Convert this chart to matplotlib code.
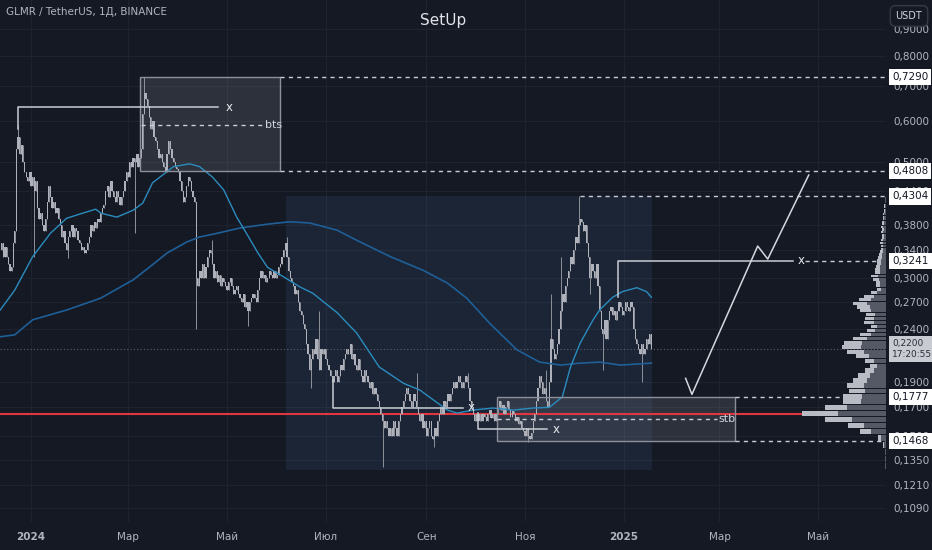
import matplotlib
matplotlib.use("Agg")
import matplotlib.pyplot as plt
from matplotlib.patches import Rectangle
from datetime import date

START = date(2023, 12, 13)   # day 0 = first daily candle

# daily closes GLMR/USDT
closes = [
    0.34, 0.35, 0.33, 0.345, 0.33, 0.32, 0.31, 0.315, 0.35, 0.37,
    0.53, 0.56, 0.52, 0.54, 0.50, 0.48, 0.47, 0.46, 0.48, 0.45,
    0.47, 0.44, 0.46, 0.41, 0.39, 0.40, 0.38, 0.37, 0.39, 0.42,
    0.45, 0.43, 0.41, 0.42, 0.40, 0.41, 0.39, 0.38, 0.36, 0.37,
    0.35, 0.34, 0.36, 0.37, 0.38, 0.36, 0.375, 0.37, 0.355, 0.35,
    0.34, 0.345, 0.335, 0.34, 0.35, 0.36, 0.38, 0.37, 0.385, 0.375,
    0.39, 0.385, 0.40, 0.41, 0.415, 0.44, 0.45, 0.43, 0.46, 0.44,
    0.43, 0.42, 0.44, 0.43, 0.415, 0.43, 0.44, 0.46, 0.48, 0.47,
    0.50, 0.49, 0.51, 0.50, 0.52, 0.49, 0.51, 0.53, 0.62, 0.68,
    0.66, 0.64, 0.61, 0.58, 0.60, 0.56, 0.55, 0.53, 0.51, 0.52,
    0.50, 0.49, 0.48, 0.52, 0.55, 0.53, 0.51, 0.50, 0.49, 0.485,
    0.48, 0.46, 0.44, 0.42, 0.43, 0.45, 0.47, 0.46, 0.44, 0.43,
    0.42, 0.30, 0.29, 0.31, 0.30, 0.32, 0.30, 0.315, 0.33, 0.34,
    0.335, 0.32, 0.30, 0.31, 0.295, 0.305, 0.29, 0.30, 0.295, 0.29,
    0.285, 0.295, 0.30, 0.29, 0.28, 0.285, 0.29, 0.28, 0.275, 0.27,
    0.28, 0.265, 0.27, 0.26, 0.27, 0.275, 0.28, 0.275, 0.27, 0.285,
    0.30, 0.31, 0.30, 0.305, 0.295, 0.30, 0.31, 0.305, 0.30, 0.31,
    0.30, 0.305, 0.315, 0.32, 0.33, 0.34, 0.35, 0.33, 0.31, 0.30,
    0.295, 0.29, 0.28, 0.285, 0.27, 0.26, 0.255, 0.245, 0.24, 0.225,
    0.215, 0.20, 0.21, 0.22, 0.215, 0.23, 0.21, 0.20, 0.22, 0.215,
    0.22, 0.21, 0.205, 0.20, 0.195, 0.19, 0.195, 0.20, 0.19, 0.195,
    0.205, 0.20, 0.21, 0.215, 0.22, 0.215, 0.225, 0.21, 0.215, 0.205,
    0.20, 0.21, 0.20, 0.195, 0.19, 0.20, 0.195, 0.19, 0.185, 0.19,
    0.18, 0.185, 0.18, 0.175, 0.17, 0.165, 0.16, 0.155, 0.16, 0.155,
    0.15, 0.155, 0.15, 0.16, 0.155, 0.15, 0.16, 0.165, 0.17, 0.175,
    0.18, 0.185, 0.18, 0.175, 0.17, 0.18, 0.175, 0.17, 0.165, 0.16,
    0.165, 0.155, 0.16, 0.15, 0.155, 0.16, 0.15, 0.148, 0.155, 0.15,
    0.16, 0.165, 0.17, 0.165, 0.175, 0.17, 0.18, 0.175, 0.18, 0.185,
    0.19, 0.185, 0.19, 0.195, 0.19, 0.185, 0.19, 0.195, 0.19, 0.185,
    0.175, 0.17, 0.165, 0.16, 0.165, 0.16, 0.165, 0.16, 0.165, 0.163,
    0.16, 0.165, 0.168, 0.162, 0.165, 0.16, 0.165, 0.17, 0.175, 0.168,
    0.172, 0.165, 0.17, 0.175, 0.168, 0.163, 0.167, 0.165, 0.16, 0.163,
    0.158, 0.16, 0.155, 0.153, 0.15, 0.155, 0.15, 0.148, 0.152, 0.16,
    0.165, 0.175, 0.185, 0.195, 0.19, 0.18, 0.185, 0.175, 0.17, 0.19,
    0.23, 0.22, 0.21, 0.215, 0.225, 0.24, 0.26, 0.28, 0.27, 0.29,
    0.30, 0.31, 0.33, 0.32, 0.34, 0.36, 0.35, 0.38, 0.39, 0.385,
    0.37, 0.38, 0.35, 0.33, 0.30, 0.32, 0.31, 0.30, 0.32, 0.29,
    0.26, 0.24, 0.235, 0.25, 0.23, 0.25, 0.26, 0.265, 0.255, 0.26,
    0.25, 0.26, 0.27, 0.265, 0.255, 0.26, 0.27, 0.265, 0.26, 0.27,
    0.265, 0.24, 0.23, 0.225, 0.22, 0.215, 0.225, 0.215, 0.22, 0.23,
    0.225, 0.235, 0.22,
]

# the long wicks that stand out (day -> price)
wick_highs = {11: 0.59, 89: 0.729, 131: 0.355, 177: 0.36, 197: 0.26, 257: 0.198,
              289: 0.198, 337: 0.20, 340: 0.28, 346: 0.33, 357: 0.4304}
wick_lows = {21: 0.33, 42: 0.328, 83: 0.366, 121: 0.24, 153: 0.243, 192: 0.185,
             236: 0.131, 268: 0.143, 326: 0.146, 364: 0.28, 372: 0.20, 396: 0.19}

# moving averages (day, price)
fast_ma_days = [0, 9, 20, 31, 41, 51, 59, 62, 72, 82, 88, 94, 107, 117, 123, 131,
                138, 146, 152, 159, 165, 175, 185, 193, 208, 220, 234, 249, 259,
                270, 276, 282, 292, 304, 317, 329, 339, 347, 352, 358, 366, 370,
                378, 384, 393, 399, 402]
fast_ma = [0.261, 0.285, 0.330, 0.366, 0.391, 0.400, 0.407, 0.400, 0.393, 0.405,
           0.418, 0.457, 0.491, 0.497, 0.491, 0.469, 0.443, 0.393, 0.366, 0.336,
           0.315, 0.302, 0.289, 0.281, 0.258, 0.236, 0.203, 0.189, 0.1835, 0.1733,
           0.168, 0.1658, 0.168, 0.1695, 0.168, 0.1695, 0.170, 0.178, 0.203, 0.2256,
           0.250, 0.261, 0.276, 0.283, 0.288, 0.283, 0.276]
slow_ma_days = [0, 9, 20, 41, 62, 82, 92, 103, 115, 123, 134, 148, 165, 179, 191,
                208, 220, 241, 261, 276, 288, 302, 319, 333, 346, 358, 370, 383, 402]
slow_ma = [0.232, 0.234, 0.250, 0.261, 0.275, 0.298, 0.315, 0.3355, 0.352, 0.360,
           0.366, 0.3746, 0.381, 0.385, 0.383, 0.371, 0.355, 0.330, 0.311, 0.294,
           0.275, 0.2465, 0.219, 0.2075, 0.2048, 0.2066, 0.2075, 0.2048, 0.2066]

# visible range volume profile, rows of 0.0043 starting at 0.12905
profile_low = 0.12905
profile_step = 0.0043
profile_total = [1, 1, 1, 3, 8, 26, 38, 61, 84, 61, 43, 43, 37, 39, 33, 28, 21, 16,
                 21, 30, 39, 44, 42, 33, 26, 19, 15, 22, 21, 20, 26, 29, 33, 27, 22,
                 15, 9, 10, 10, 13, 15, 11, 11, 10, 9, 9, 8, 7, 6, 5, 5, 6, 5, 4, 4,
                 5, 4, 5, 4, 4, 3, 3, 3, 2, 2, 2, 2, 1, 1, 1]
profile_down = [1, 1, 1, 2, 5, 15, 22, 34, 48, 39, 25, 24, 21, 22, 19, 16, 12, 9,
                12, 17, 22, 25, 24, 19, 15, 11, 9, 12, 12, 11, 15, 16, 19, 15, 12,
                9, 5, 6, 6, 7, 8, 6, 6, 6, 5, 5, 4, 4, 3, 3, 3, 3, 3, 2, 2, 3, 2, 3,
                2, 2, 2, 2, 2, 1, 1, 1, 1, 1, 1, 1]

price_ticks = [0.9, 0.8, 0.7, 0.6, 0.5, 0.44, 0.38, 0.34, 0.30, 0.27, 0.24, 0.19,
               0.17, 0.15, 0.135, 0.121, 0.109]
month_ticks = [date(2024, 1, 1), date(2024, 3, 1), date(2024, 5, 1), date(2024, 7, 1),
               date(2024, 9, 1), date(2024, 11, 1), date(2025, 1, 1), date(2025, 3, 1),
               date(2025, 5, 1)]
month_labels = ['2024', 'Мар', 'Май', 'Июл', 'Сен', 'Ноя', '2025', 'Мар', 'Май']

levels = [(0.7290, '0,7290'), (0.4808, '0,4808'), (0.4304, '0,4304'),
          (0.3241, '0,3241'), (0.1777, '0,1777'), (0.1468, '0,1468')]
last_price = 0.22

BG = '#151924'
TXT = '#b2b5be'
LINE = '#c9ccd3'
XMAX = 546.8

fig = plt.figure(figsize=(9.32, 5.5), dpi=100, facecolor=BG)
ax = fig.add_axes([0, 28 / 550, 886 / 932, 522 / 550], facecolor=BG)
ax.set_yscale('log')
ax.set_xlim(-0.12, XMAX)
ax.set_ylim(0.1026, 1.0227)
for s in ax.spines.values():
    s.set_visible(False)

ax.yaxis.tick_right()
ax.set_yticks(price_ticks, labels=[f'{v:.4f}'.replace('.', ',') for v in price_ticks])
ax.minorticks_off()
xt = [(d - START).days for d in month_ticks]
ax.set_xticks(xt, labels=month_labels)
for lab in ax.get_xticklabels():
    if lab.get_text().isdigit():
        lab.set_fontweight('bold')
        lab.set_color('#d1d4dc')
ax.tick_params(axis='y', length=0, pad=5, labelsize=7.5, labelcolor=TXT)
ax.tick_params(axis='x', length=0, pad=7, labelsize=7.5, labelcolor=TXT)
ax.set_axisbelow(True)
ax.grid(True, color='#1f2430', lw=0.7)

# shaded blue zone
ax.add_patch(Rectangle((176.4, 0.129), 402.3 - 176.4, 0.4304 - 0.129,
                       fc='#5096dc', alpha=0.1, ec='none', zorder=1))
# grey boxes
ax.add_patch(Rectangle((86.5, 0.4808), 86, 0.729 - 0.4808, fc='#787b86', alpha=0.25,
                       ec='none', zorder=1.5))
ax.add_patch(Rectangle((86.5, 0.4808), 86, 0.729 - 0.4808, fc='none', ec='#8d909a',
                       lw=1, zorder=4))
ax.add_patch(Rectangle((306.5, 0.1468), 146.9, 0.1777 - 0.1468, fc='#787b86', alpha=0.25,
                       ec='none', zorder=1.5))
ax.add_patch(Rectangle((306.5, 0.1468), 146.9, 0.1777 - 0.1468, fc='none', ec='#8d909a',
                       lw=1, zorder=4))

# candles
days = list(range(len(closes)))
opens = [closes[0]] + closes[:-1]
lows = [min(o, c, wick_lows.get(i, 9.0)) for i, (o, c) in enumerate(zip(opens, closes))]
highs = [max(o, c, wick_highs.get(i, 0.0)) for i, (o, c) in enumerate(zip(opens, closes))]
ax.vlines(days, lows, highs, color='#8f929b', lw=0.7, zorder=3)
ax.bar(days, [abs(c - o) for o, c in zip(opens, closes)],
       bottom=[min(o, c) for o, c in zip(opens, closes)],
       width=0.75, color='#aeb1b9', lw=0, zorder=3.1)

# moving averages
ax.plot(slow_ma_days, slow_ma, color='#1f5f97', lw=1.2, zorder=3.5)
ax.plot(fast_ma_days, fast_ma, color='#2b8cbe', lw=1.0, zorder=3.5)

# red level, last price line
ax.axhline(0.165, color='#e0363f', lw=1.5, zorder=2.5)
ax.axhline(last_price, color='#5d606b', lw=0.8, ls=(0, (1, 2)), zorder=2)

dash = (0, (3, 3))
# extensions to the price scale
ax.plot([172.5, XMAX], [0.729, 0.729], color=LINE, lw=1, ls=dash, zorder=4)
ax.plot([172.5, XMAX], [0.4808, 0.4808], color=LINE, lw=1, ls=dash, zorder=4)
ax.plot([358, XMAX], [0.4304, 0.4304], color=LINE, lw=1, ls=dash, zorder=4)
ax.plot([496.8, XMAX], [0.3241, 0.3241], color=LINE, lw=1, ls=dash, zorder=4)
ax.plot([453.4, XMAX], [0.1777, 0.1777], color=LINE, lw=1, ls=dash, zorder=4)
ax.plot([453.4, XMAX], [0.1468, 0.1468], color=LINE, lw=1, ls=dash, zorder=4)

# bts / stb
ax.plot([86.9, 161.6], [0.589, 0.589], color=LINE, lw=1, ls=dash, zorder=4)
ax.text(163.5, 0.589, 'bts', color='#d1d4dc', fontsize=8, va='center', ha='left', zorder=5)
ax.plot([306.5, 442.3], [0.1617, 0.1617], color=LINE, lw=1, ls=dash, zorder=4)
ax.text(443.3, 0.1617, 'stb', color='#d1d4dc', fontsize=8, va='center', ha='left', zorder=5)

# x lines
for xs, ys, lx in [([11, 11, 134.4], [0.58, 0.638, 0.638], 139),
                   ([205.2, 205.2, 285.5], [0.1917, 0.1697, 0.1697], 288.6),
                   ([295.1, 295.1, 337.3], [0.1658, 0.1545, 0.1545], 340.8),
                   ([381.2, 381.2, 489.2], [0.277, 0.3241, 0.3241], 492.5)]:
    ax.plot(xs, ys, color=LINE, lw=1.1, zorder=4.5)
    ax.text(lx, ys[-1], 'x', color='#e6e8ec', fontsize=8.5, va='center', ha='left', zorder=5)

# projected path
ax.plot([423.1, 427.0, 467.6, 473.8, 499.1], [0.1932, 0.180, 0.346, 0.3267, 0.473],
        color='#d6d8de', lw=1.1, zorder=4.5)

# volume profile against the price scale
ytr = ax.get_yaxis_transform()
scale = 1 / 886
for k, (tot, dn) in enumerate(zip(profile_total, profile_down)):
    y0 = profile_low + k * profile_step + profile_step * 0.08
    h = profile_step * 0.84
    ax.add_patch(Rectangle((1 - tot * scale, y0), tot * scale, h, transform=ytr,
                           fc='#b8bbc3', ec='none', zorder=6))
    ax.add_patch(Rectangle((1 - dn * scale, y0), dn * scale, h, transform=ytr,
                           fc='#555965', ec='none', zorder=6.1))

# price scale labels
for p, t in levels:
    ax.text(1.0068, p, t, transform=ytr, ha='left', va='center', fontsize=7.5,
            color='#131722', clip_on=False, zorder=10,
            bbox=dict(boxstyle='square,pad=0.3', fc='white', ec='none'))
ax.text(1.0068, last_price, '0,2200\n17:20:55', transform=ytr, ha='left', va='center',
        fontsize=6.5, color='#2a2e39', linespacing=1.3, clip_on=False, zorder=10,
        bbox=dict(boxstyle='square,pad=0.3', fc='#c8cbd2', ec='none'))

fig.text(6 / 932, 1 - 12 / 550, 'GLMR / TetherUS, 1Д, BINANCE', color=TXT,
         fontsize=7.5, ha='left', va='center')
fig.text(443 / 932, 1 - 20 / 550, 'SetUp', color='#e1e3e8', fontsize=11,
         ha='center', va='center')
fig.text(909 / 932, 1 - 16 / 550, 'USDT', color='#d1d4dc', fontsize=7,
         ha='center', va='center',
         bbox=dict(boxstyle='round,pad=0.55', fc=BG, ec='#363a45', lw=1))

fig.savefig('out.png', dpi=100, facecolor=BG)
